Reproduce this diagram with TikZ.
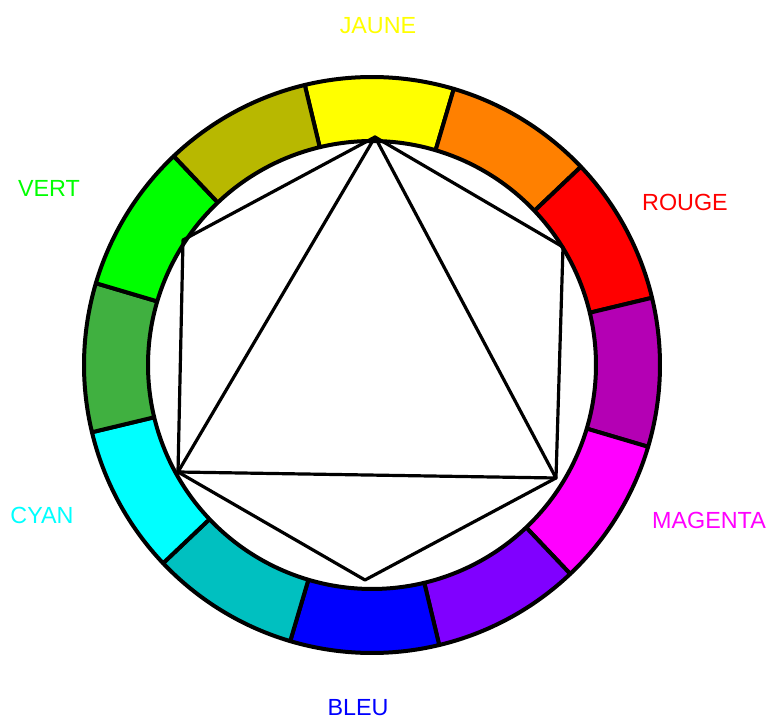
\documentclass[tikz,border=0pt]{standalone}
\usepackage{fontspec}
\setmainfont{Liberation Sans}
\usepackage{tikz}

\definecolor{jaune}{HTML}{FFFF00}
\definecolor{orangec}{HTML}{FF8000}
\definecolor{rouge}{HTML}{FF0000}
\definecolor{pourpre}{HTML}{B400B4}
\definecolor{magentac}{HTML}{FF00FF}
\definecolor{violetc}{HTML}{8000FF}
\definecolor{bleu}{HTML}{0000FF}
\definecolor{sarcelle}{HTML}{00C0C0}
\definecolor{cyanc}{HTML}{00FFFF}
\definecolor{vertfonce}{HTML}{40B040}
\definecolor{vertc}{HTML}{00FF00}
\definecolor{olive}{HTML}{B8B800}

\begin{document}
\begin{tikzpicture}[x=0.75pt, y=0.75pt,
        seg/.style={draw=black, line width=3pt, line join=round},
        poly/.style={draw=black, line width=2.4pt, line join=round},
        lbl/.style={font=\fontsize{17.5}{20}\selectfont, inner sep=0pt}]
    \useasboundingbox (0,0) rectangle (772,722);
    \coordinate (centre) at (372,357);
    % couronne des douze couleurs
    \foreach \col [count=\i from 0] in {jaune, orangec, rouge, pourpre, magentac, violetc,
            bleu, sarcelle, cyanc, vertfonce, vertc, olive} {
        \pgfmathsetmacro{\a}{88.5-30*\i}
        \filldraw[seg, fill=\col, shift={(centre)}]
            (\a+15:168pt) -- (\a+15:216pt) arc[start angle=\a+15, end angle=\a-15, radius=216pt]
            -- (\a-15:168pt) arc[start angle=\a-15, end angle=\a+15, radius=168pt] -- cycle;
    }
    % sommets
    \coordinate (pJ) at (375,585);
    \coordinate (pR) at (563,475);
    \coordinate (pM) at (556,244);
    \coordinate (pB) at (365,142);
    \coordinate (pC) at (178,250);
    \coordinate (pV) at (183,482);
    \draw[poly] (pJ) -- (pM) -- (pC) -- cycle;
    \draw[poly] (pJ) -- (pR) -- (pM) -- (pB) -- (pC) -- (pV) -- cycle;
    % noms
    \node[lbl, text=jaune] (jaune) at (378,696) {JAUNE};
    \node[lbl, text=rouge] (rouge) at (685,520) {ROUGE};
    \node[lbl, text=magentac] (magenta) at (709,202) {MAGENTA};
    \node[lbl, text=bleu] (bleu) at (358,14) {BLEU};
    \node[lbl, text=cyanc] (cyan) at (42,207) {CYAN};
    \node[lbl, text=vertc] (vert) at (49,534) {VERT};
\end{tikzpicture}
\end{document}
